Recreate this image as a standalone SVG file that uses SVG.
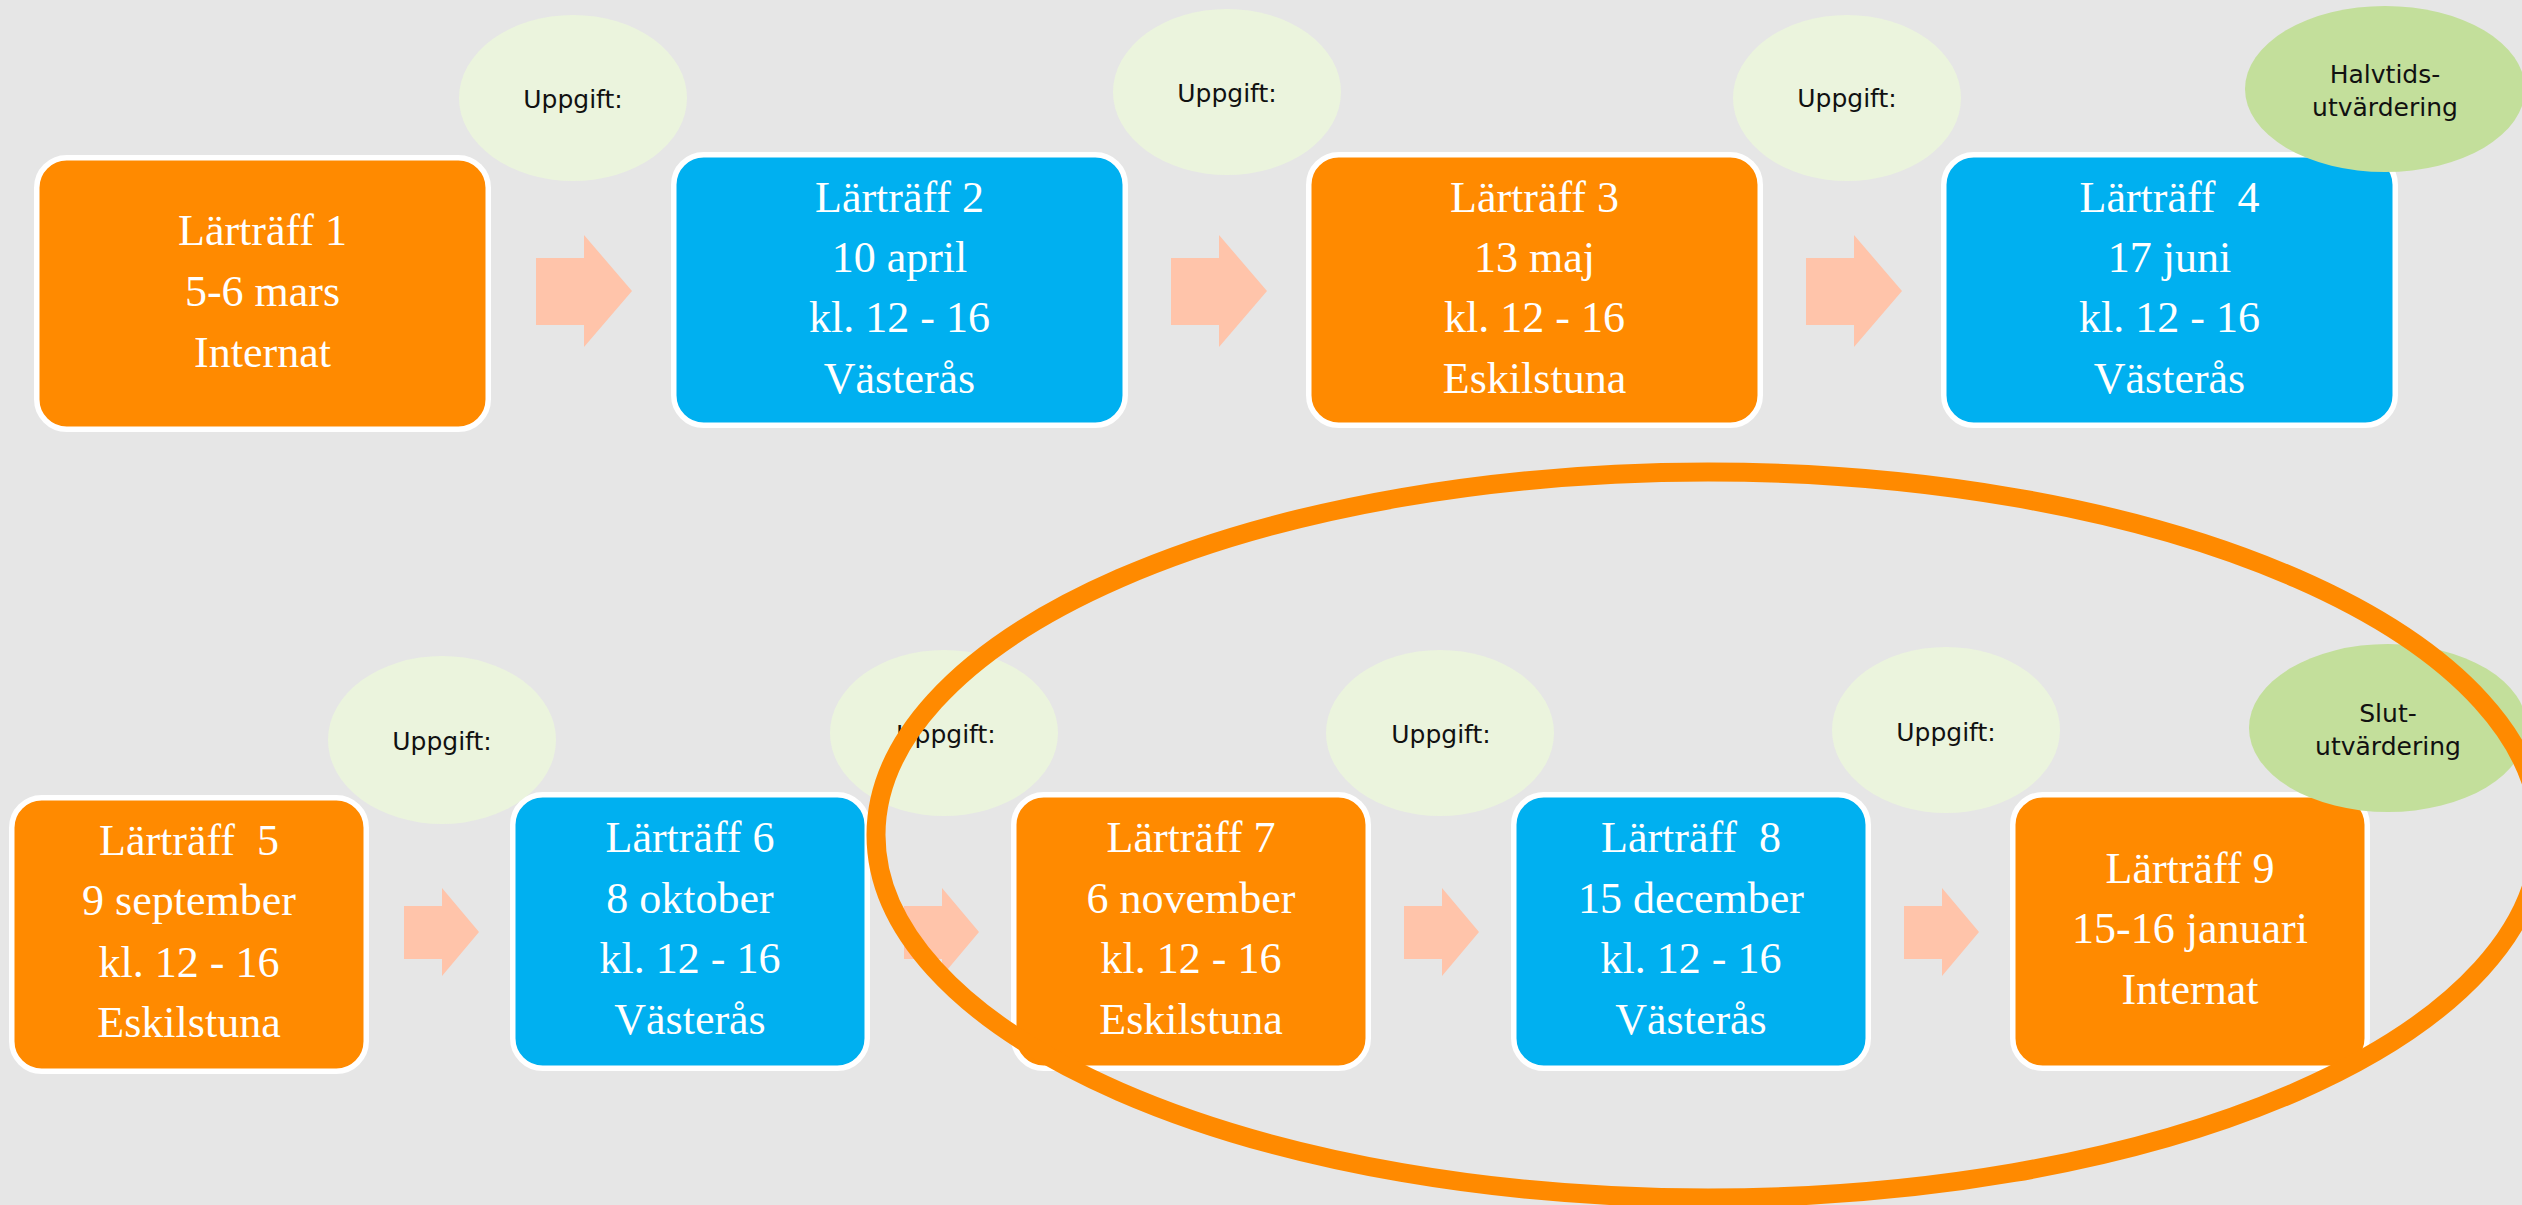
<svg xmlns="http://www.w3.org/2000/svg" xmlns:xlink="http://www.w3.org/1999/xlink" width="2522" height="1205" viewBox="0 0 2522 1205">
<style>
.bg{fill:#E6E6E6}
.box{stroke:#FFFFFF;stroke-width:5.5}
.or{fill:#FF8A00}
.bl{fill:#00B0F0}
.task{fill:#EBF4DD}
.eval{fill:#C3DF9B}
.arrow{fill:#FFC4AA}
.bt{font-family:"Liberation Serif","Times New Roman",serif;font-size:44px;fill:#FFFFFF;text-anchor:middle}
.st{font-family:"DejaVu Sans","Noto Sans",sans-serif;font-size:25px;fill:#111111;text-anchor:middle}
.ring{fill:none;stroke:#FF8A00;stroke-width:19}
</style>
<defs>
<polygon id="a1" class="arrow" points="536,258 584,258 584,235 632,291 584,347 584,325 536,325"/>
<polygon id="a2" class="arrow" points="404,906 442,906 442,888 479,932 442,976 442,959 404,959"/>
</defs>
<rect class="bg" x="0" y="0" width="2522" height="1205"/>

<g id="task-circles">
<g id="task1"><ellipse class="task" cx="573" cy="98" rx="114" ry="83"/><text class="st" x="573" y="108">Uppgift:</text></g>
<g id="task2"><ellipse class="task" cx="1227" cy="92" rx="114" ry="83"/><text class="st" x="1227" y="102">Uppgift:</text></g>
<g id="task3"><ellipse class="task" cx="1847" cy="98" rx="114" ry="83"/><text class="st" x="1847" y="107">Uppgift:</text></g>
<g id="task5"><ellipse class="task" cx="442" cy="740" rx="114" ry="84"/><text class="st" x="442" y="750">Uppgift:</text></g>
<g id="task6"><ellipse class="task" cx="944" cy="733" rx="114" ry="83"/><text class="st" x="946" y="743">Uppgift:</text></g>
<g id="task7"><ellipse class="task" cx="1440" cy="733" rx="114" ry="83"/><text class="st" x="1441" y="743">Uppgift:</text></g>
<g id="task8"><ellipse class="task" cx="1946" cy="730" rx="114" ry="83"/><text class="st" x="1946" y="741">Uppgift:</text></g>
</g>

<g id="node1"><rect class="box or" x="36.75" y="157.75" width="451.5" height="271.5" rx="30"/>
<text class="bt" x="262.5" y="245">Lärträff 1</text><text class="bt" x="262.5" y="306">5-6 mars</text><text class="bt" x="262.5" y="367">Internat</text></g>
<g id="node2"><rect class="box bl" x="673.75" y="154.75" width="451.5" height="270.5" rx="30"/>
<text class="bt" x="899.5" y="212">Lärträff 2</text><text class="bt" x="899.5" y="272">10 april</text><text class="bt" x="899.5" y="332">kl. 12 - 16</text><text class="bt" x="899.5" y="393">Västerås</text></g>
<g id="node3"><rect class="box or" x="1308.75" y="154.75" width="451.5" height="270.5" rx="30"/>
<text class="bt" x="1534.5" y="212">Lärträff 3</text><text class="bt" x="1534.5" y="272">13 maj</text><text class="bt" x="1534.5" y="332">kl. 12 - 16</text><text class="bt" x="1534.5" y="393">Eskilstuna</text></g>
<g id="node4"><rect class="box bl" x="1943.75" y="154.75" width="451.5" height="270.5" rx="30"/>
<text class="bt" x="2169.5" y="212" xml:space="preserve">Lärträff  4</text><text class="bt" x="2169.5" y="272">17 juni</text><text class="bt" x="2169.5" y="332">kl. 12 - 16</text><text class="bt" x="2169.5" y="393">Västerås</text></g>

<g id="node5"><rect class="box or" x="11.75" y="797.75" width="354.5" height="273.5" rx="30"/>
<text class="bt" x="189" y="855" xml:space="preserve">Lärträff  5</text><text class="bt" x="189" y="915">9 september</text><text class="bt" x="189" y="977">kl. 12 - 16</text><text class="bt" x="189" y="1037">Eskilstuna</text></g>
<g id="node6"><rect class="box bl" x="512.75" y="794.75" width="354.5" height="273.5" rx="30"/>
<text class="bt" x="690" y="852">Lärträff 6</text><text class="bt" x="690" y="913">8 oktober</text><text class="bt" x="690" y="973">kl. 12 - 16</text><text class="bt" x="690" y="1034">Västerås</text></g>
<g id="node7"><rect class="box or" x="1013.75" y="794.75" width="354.5" height="273.5" rx="30"/>
<text class="bt" x="1191" y="852">Lärträff 7</text><text class="bt" x="1191" y="913">6 november</text><text class="bt" x="1191" y="973">kl. 12 - 16</text><text class="bt" x="1191" y="1034">Eskilstuna</text></g>
<g id="node8"><rect class="box bl" x="1513.75" y="794.75" width="354.5" height="273.5" rx="30"/>
<text class="bt" x="1691" y="852" xml:space="preserve">Lärträff  8</text><text class="bt" x="1691" y="913">15 december</text><text class="bt" x="1691" y="973">kl. 12 - 16</text><text class="bt" x="1691" y="1034">Västerås</text></g>
<g id="node9"><rect class="box or" x="2012.75" y="794.75" width="354.5" height="273.5" rx="30"/>
<text class="bt" x="2190" y="883">Lärträff 9</text><text class="bt" x="2190" y="943">15-16 januari</text><text class="bt" x="2190" y="1004">Internat</text></g>

<g id="eval-mid"><ellipse class="eval" cx="2385" cy="89" rx="140" ry="83"/>
<text class="st" x="2385" y="83">Halvtids-</text><text class="st" x="2385" y="116">utvärdering</text></g>
<g id="eval-end"><ellipse class="eval" cx="2388" cy="728" rx="139" ry="84"/>
<text class="st" x="2388" y="722">Slut-</text><text class="st" x="2388" y="755">utvärdering</text></g>

<g id="connectors">
<use xlink:href="#a1"/>
<use xlink:href="#a1" x="635"/>
<use xlink:href="#a1" x="1270"/>
<use xlink:href="#a2"/>
<use xlink:href="#a2" x="500"/>
<use xlink:href="#a2" x="1000"/>
<use xlink:href="#a2" x="1500"/>
</g>

<g id="highlight"><ellipse class="ring" cx="1708" cy="835" rx="832" ry="363"/></g>
</svg>
